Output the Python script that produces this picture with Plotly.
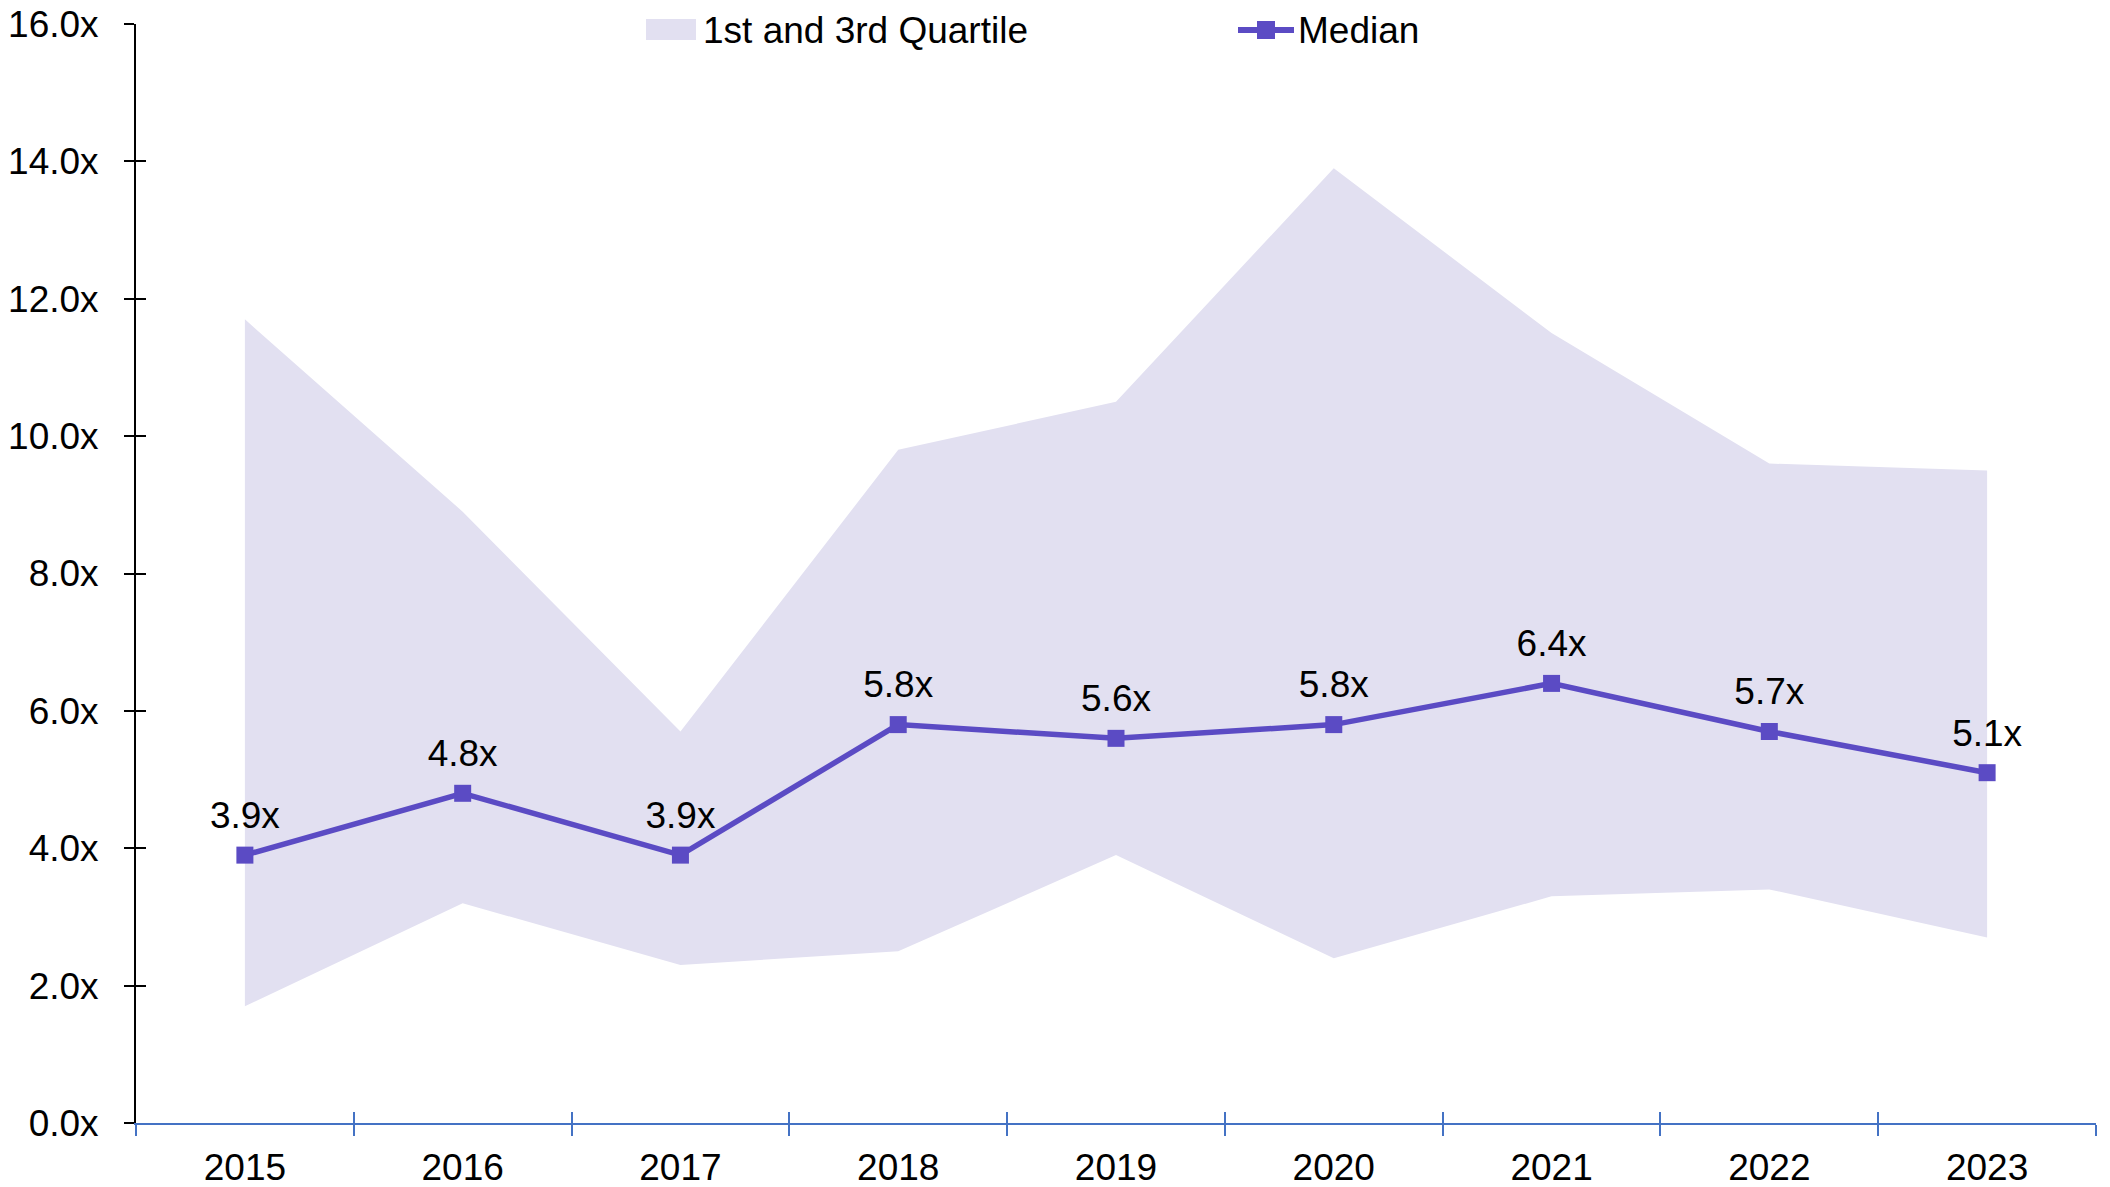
import plotly.graph_objects as go

years = ["2015", "2016", "2017", "2018", "2019", "2020", "2021", "2022", "2023"]
q1 = [1.7, 3.2, 2.3, 2.5, 3.9, 2.4, 3.3, 3.4, 2.7]
q3 = [11.7, 8.9, 5.7, 9.8, 10.5, 13.9, 11.5, 9.6, 9.5]
median = [3.9, 4.8, 3.9, 5.8, 5.6, 5.8, 6.4, 5.7, 5.1]
y_ticks = [0, 2, 4, 6, 8, 10, 12, 14, 16]
y_tick_text = [f"{v:.1f}x" for v in y_ticks]
legend_names = ["1st and 3rd Quartile", "Median"]

BAND = "#E2E0F1"
LINE = "#5B4BC4"
FONT = "Arial, Liberation Sans, sans-serif"
FS = 37

W, H = 2110, 1187
OFF = 8  # page body margin
# visual plot-area edges in the screenshot
VL, VR, VT, VB = 136, 2096, 24, 1123
L, T = VL - OFF, VT - OFF
R = W - (VR - OFF)
B = H - (VB - OFF)
PW, PH = VR - VL, VB - VT


def px(x):
    return (x - VL) / PW


def py(y):
    return (VB - y) / PH


fig = go.Figure()
fig.add_trace(go.Scatter(x=years, y=q1, mode="lines", line=dict(width=0, color=BAND),
                         showlegend=False, hoverinfo="skip"))
fig.add_trace(go.Scatter(x=years, y=q3, mode="lines", line=dict(width=0, color=BAND),
                         fill="tonexty", fillcolor=BAND, name=legend_names[0],
                         showlegend=False))
fig.add_trace(go.Scatter(x=years, y=median, mode="lines+markers", name=legend_names[1],
                         line=dict(color=LINE, width=5.5),
                         marker=dict(symbol="square", size=17, color=LINE),
                         showlegend=False))
fig.add_trace(go.Scatter(x=years, y=median, mode="markers+text", showlegend=False,
                         marker=dict(size=27, opacity=0), hoverinfo="skip",
                         text=[f"{v:.1f}x" for v in median], textposition="top center",
                         textfont=dict(size=FS, color="black", family=FONT)))

# manual legend
shapes = [
    dict(type="rect", xref="paper", yref="paper", x0=px(646), x1=px(696), y0=py(40), y1=py(19),
         fillcolor=BAND, line=dict(width=0), layer="above"),
    dict(type="line", xref="paper", yref="paper", x0=px(1238), x1=px(1294), y0=py(30), y1=py(30),
         line=dict(color=LINE, width=6), layer="above"),
    dict(type="rect", xref="paper", yref="paper", x0=px(1257), x1=px(1275), y0=py(39), y1=py(21),
         fillcolor=LINE, line=dict(width=0), layer="above"),
]
annotations = [
    dict(xref="paper", yref="paper", x=px(701), y=py(30), xanchor="left", yanchor="middle",
         text=legend_names[0], showarrow=False, font=dict(size=FS, color="black", family=FONT)),
    dict(xref="paper", yref="paper", x=px(1296), y=py(30), xanchor="left", yanchor="middle",
         text=legend_names[1], showarrow=False, font=dict(size=FS, color="black", family=FONT)),
]

fig.update_layout(
    width=W, height=H,
    margin=dict(l=L, r=R, t=T, b=B, autoexpand=False),
    paper_bgcolor="white", plot_bgcolor="white",
    font=dict(family=FONT, size=FS, color="black"),
    showlegend=False,
    shapes=shapes, annotations=annotations,
    xaxis=dict(type="category", range=[-0.5, 8.5], showgrid=False, zeroline=False,
               showline=True, linecolor="#4472C4", linewidth=2,
               ticks="outside", tickson="boundaries", ticklen=11, tickcolor="#4472C4",
               tickwidth=2, tickfont=dict(size=FS), automargin=False,
               ticklabelstandoff=11, ticklabeloverflow="allow"),
    xaxis2=dict(overlaying="x", range=[-0.5, 8.5], showgrid=False, zeroline=False,
                showline=False, showticklabels=False, ticks="inside", ticklen=11,
                tickcolor="#4472C4", tickwidth=2, tickmode="array",
                tickvals=[i - 0.5 for i in range(len(years) + 1)], anchor="y"),
    yaxis=dict(range=[0, 16], tickmode="array", tickvals=y_ticks, ticktext=y_tick_text,
               showgrid=False, zeroline=False, showline=True, linecolor="black",
               linewidth=2, ticks="outside", ticklen=10, tickcolor="black", tickwidth=2,
               ticklabelstandoff=18, tickfont=dict(size=FS), automargin=False,
               ticklabeloverflow="allow"),
    yaxis2=dict(overlaying="y", range=[0, 16], tickvals=y_ticks, showgrid=False,
                zeroline=False, showline=False, showticklabels=False, ticks="inside",
                ticklen=10, tickcolor="black", tickwidth=2, anchor="x", side="left"),
)
fig.add_trace(go.Scatter(x=[0], y=[0], xaxis="x2", yaxis="y2", mode="markers",
                         marker=dict(opacity=0), showlegend=False, hoverinfo="skip"))

fig.write_html("out.html")
